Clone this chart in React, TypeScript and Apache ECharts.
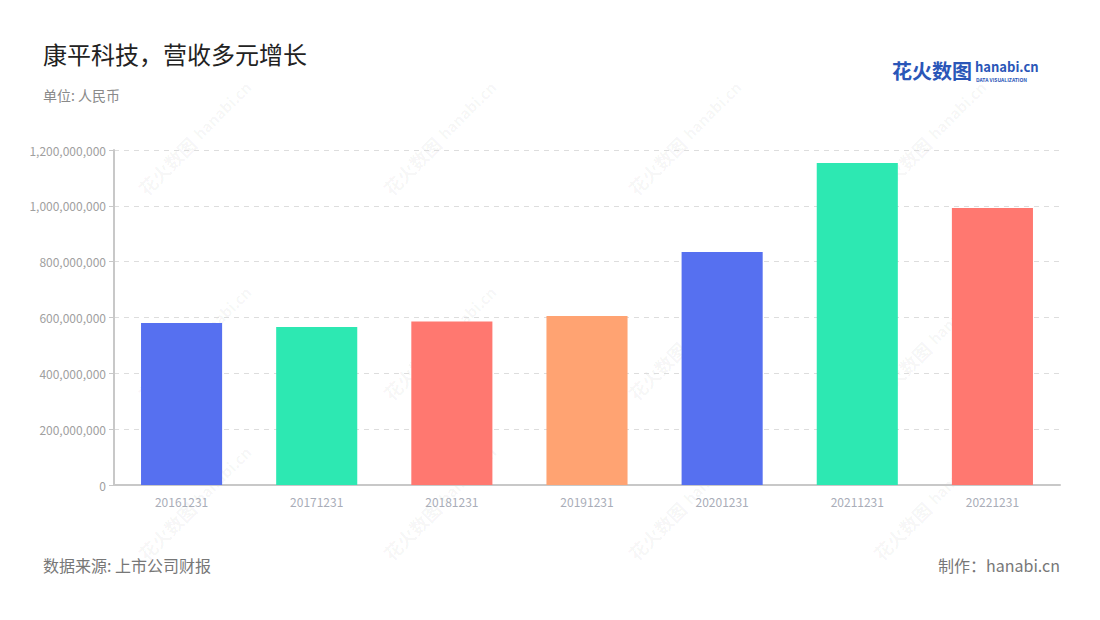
import React, { useEffect, useRef } from "react";
import * as echarts from "echarts";

const categories = ["20161231", "20171231", "20181231", "20191231", "20201231", "20211231", "20221231"];
const revenue = [580000000, 566000000, 586000000, 605000000, 835000000, 1153000000, 992000000];
const barColors = ["#5670F0", "#2DE8B2", "#FF7870", "#FFA372", "#5670F0", "#2DE8B2", "#FF7870"];
const yTicks = { min: 0, max: 1200000000, interval: 200000000 };

const FONT = "'Noto Sans CJK SC', 'Noto Sans', sans-serif";

function watermarks() {
  const items: any[] = [];
  const xs = [135, 380, 625, 870];
  const ys = [185, 390, 550];
  xs.forEach((x) => {
    ys.forEach((y) => {
      items.push({
        type: "group",
        x,
        y,
        rotation: Math.PI / 4,
        silent: true,
        children: [
          { type: "text", x: 0, y: 0, style: { text: "花火数图", font: `bold 18px ${FONT}`, fill: "rgba(0,0,0,0.045)" } },
          { type: "text", x: 78, y: 1, style: { text: "hanabi.cn", font: `bold 15px ${FONT}`, fill: "rgba(0,0,0,0.045)" } },
        ],
      });
    });
  });
  return items;
}

export default function App() {
  const ref = useRef<HTMLDivElement>(null);
  useEffect(() => {
    const chart = echarts.init(ref.current!, null, { renderer: "svg" });
    chart.setOption({
      animation: false,
      backgroundColor: "#fff",
      textStyle: { fontFamily: FONT },
      grid: { left: 114, right: 40, top: 150, bottom: 135, containLabel: false },
      xAxis: {
        type: "category",
        data: categories,
        axisLine: { lineStyle: { color: "#c8c8c8", width: 2 } },
        axisTick: { alignWithLabel: true, lineStyle: { color: "#c8c8c8" } },
        axisLabel: { color: "#a9adb8", fontSize: 12, margin: 10 },
      },
      yAxis: {
        type: "value",
        min: yTicks.min,
        max: yTicks.max,
        interval: yTicks.interval,
        axisLine: { show: true, lineStyle: { color: "#c8c8c8", width: 2 } },
        axisTick: { show: true, length: 5, lineStyle: { color: "#c8c8c8" } },
        axisLabel: {
          color: "#a0a0a0",
          fontSize: 12,
          formatter: (v: number) => v.toLocaleString("en-US"),
        },
        splitLine: { lineStyle: { color: "#dddddd", type: [5, 5] } },
      },
      series: [
        {
          type: "bar",
          barWidth: "60%",
          data: revenue.map((v, i) => ({ value: v, itemStyle: { color: barColors[i] } })),
        },
      ],
      graphic: [
        ...watermarks(),
        { type: "text", left: 43, top: 41, style: { text: "康平科技，营收多元增长", font: `24px ${FONT}`, fill: "#222" } },
        { type: "text", left: 43, top: 88, style: { text: "单位: 人民币", font: `14px ${FONT}`, fill: "#8a8a8a" } },
        { type: "text", left: 43, top: 557, style: { text: "数据来源: 上市公司财报", font: `16px ${FONT}`, fill: "#777" } },
        { type: "text", right: 40, top: 557, style: { text: "制作：hanabi.cn", font: `16px ${FONT}`, fill: "#777" } },
        { type: "text", left: 892, top: 60, style: { text: "花火数图", font: `bold 20px ${FONT}`, fill: "#2a56b8" } },
        { type: "text", left: 975, top: 60, style: { text: "hanabi.cn", font: `bold 13px ${FONT}`, fill: "#2a56b8" } },
        { type: "text", left: 976, top: 77, style: { text: "DATA VISUALIZATION", font: `bold 5px ${FONT}`, fill: "#2a56b8" } },
      ],
    });
    return () => chart.dispose();
  }, []);
  return <div ref={ref} style={{ position: "absolute", left: 0, top: 0, width: 1100, height: 620 }} />;
}
